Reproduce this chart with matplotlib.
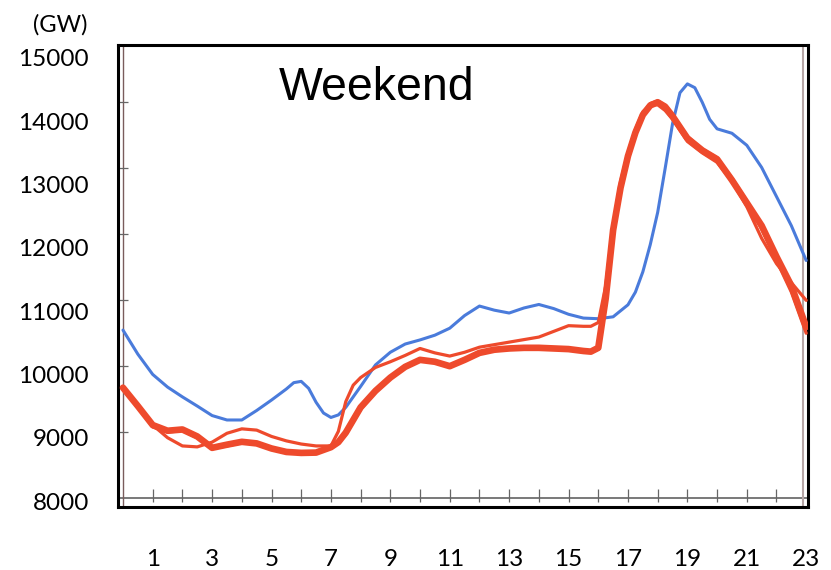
import numpy as np
import matplotlib
matplotlib.use('Agg')
import matplotlib.pyplot as plt

blue_hours = [0, 0.5, 1, 1.5, 2, 2.5, 3, 3.5, 4, 4.5, 5,
	5.5, 5.75, 6, 6.25, 6.5, 6.75, 7, 7.25, 7.5,
	8, 8.5, 9, 9.5, 10, 10.5, 11, 11.5, 12, 12.5, 13, 13.5, 14, 14.5,
	15, 15.5, 16, 16.5,
	17, 17.25, 17.5, 17.75, 18, 18.25, 18.5, 18.75, 19, 19.25, 19.5,
	19.75, 20,
	20.5, 21, 21.5, 22, 22.5, 23]
blue = [10700, 10320, 10000, 9800, 9645, 9500, 9350, 9280, 9280, 9430, 9595,
	9770, 9870, 9890, 9780, 9560, 9390, 9320, 9360, 9480,
	9810, 10150, 10350, 10480, 10545, 10620, 10730, 10930, 11080, 11015,
	10970, 11050, 11105, 11040, 10950, 10890, 10880, 10910,
	11100, 11300, 11620, 12050, 12560, 13250, 13960, 14450, 14590, 14530,
	14300, 14030, 13880,
	13810, 13620, 13270, 12810, 12350, 11800]

red_hours = [0, 0.5, 1, 1.5, 2, 2.5, 3, 3.5, 4, 4.5, 5, 5.5, 6, 6.5, 7,
	7.25, 7.5, 7.75,
	8, 8.5, 9, 9.5, 10, 10.5, 11, 11.5, 12, 12.5, 13, 13.5, 14, 14.5,
	15, 15.5,
	15.75, 16, 16.25, 16.5, 16.75, 17, 17.25, 17.5, 17.75, 18, 18.25, 18.5,
	19, 19.5, 20, 20.5, 21, 21.5, 22, 22.5, 23]

red_thick = [9790, 9500, 9200, 9110, 9130, 9020, 8840, 8890, 8935, 8910,
	8830, 8775, 8760, 8765, 8850,
	8930, 9080, 9280,
	9480, 9740, 9950, 10120, 10230, 10200, 10130, 10230, 10340, 10390,
	10410, 10420, 10420, 10410, 10400, 10370,
	10360, 10420, 11200, 12280, 12950, 13450, 13820, 14100, 14250, 14300,
	14230, 14080,
	13730, 13540, 13400, 13070, 12710, 12350, 11860, 11400, 10750]

red_mid = [9800, 9480, 9170, 9090, 9110, 9000, 8830, 8870, 8920, 8900,
	8820, 8770, 8750, 8760, 8840,
	8910, 9050, 9250,
	9450, 9720, 9940, 10110, 10220, 10190, 10120, 10220, 10330, 10380,
	10400, 10410, 10410, 10400, 10390, 10360,
	10350, 10400, 11100, 12200, 12900, 13400, 13800, 14120, 14280, 14320,
	14250, 14100,
	13760, 13560, 13420, 13100, 12740, 12300, 11800, 11300, 10650]

red_thin = [9790, 9480, 9200, 9000, 8870, 8855, 8930, 9070, 9140, 9120,
	9020, 8950, 8900, 8870, 8870,
	9100, 9570, 9830,
	9950, 10110, 10200, 10300, 10410, 10340, 10290, 10350, 10430, 10470,
	10510, 10550, 10590, 10680, 10770, 10760,
	10760, 10820, 11400, 12350, 13050, 13500, 13870, 14150, 14260, 14260,
	14170, 14030,
	13680, 13500, 13350, 13050, 12650, 12150, 11750, 11450, 11170]

y_ticks = [8000, 9000, 10000, 11000, 12000, 13000, 14000, 15000]
x_ticks = [1, 3, 5, 7, 9, 11, 13, 15, 17, 19, 21, 23]

RED = '#EE4A2C'
BLUE = '#4A7BDB'

fig = plt.figure(figsize=(8.31, 5.70), dpi=100)
ax = fig.add_axes([0.142, 0.1105, 0.8303, 0.8105])

# scanned-chart decorations: inner axis lines and ticks
ax.axhline(8047, color='#555555', lw=1.1, zorder=1)
ax.axvline(0, color='#7a5c5c', lw=1.0, zorder=1)
ax.axvline(22.9, color='#b5a5a5', lw=1.5, zorder=1)
ax.vlines(np.arange(1, 23), 7990, 8190, color='#666666', lw=0.9, zorder=1)
ax.hlines([9090, 10133, 11175, 12218, 13261, 14303], -0.17, 0.17,
	color='#666666', lw=0.9, zorder=1)

ax.plot(blue_hours, blue, color=BLUE, lw=2.2, solid_joinstyle='round',
	solid_capstyle='round', zorder=3)
ax.plot(red_hours, red_thick, color=RED, lw=4.8, solid_joinstyle='round',
	solid_capstyle='round', zorder=4)
ax.plot(red_hours, red_mid, color=RED, lw=2.3, solid_joinstyle='round',
	solid_capstyle='round', zorder=4)
ax.plot(red_hours, red_thin, color=RED, lw=2.3, solid_joinstyle='round',
	solid_capstyle='round', zorder=4)

ax.set_xlim(-0.168, 23.06)
ax.set_ylim(7905, 15204)

ax.set_yticks(y_ticks)
ax.set_yticklabels([str(v) for v in y_ticks], fontsize=17.5, family='Lato')
ax.set_xticks(x_ticks)
ax.set_xticklabels([str(v) for v in x_ticks], fontsize=17.5, family='Lato')
ax.tick_params(axis='y', length=0, pad=21)
ax.tick_params(axis='x', length=0, pad=30)

for sp in ax.spines.values():
	sp.set_linewidth(2.2)
	sp.set_color('black')

ax.text(0.375, 0.881, 'Weekend', transform=ax.transAxes, ha='center',
	va='baseline', fontsize=33.5, family='Liberation Sans')
fig.text(88 / 831, 1 - 25 / 570, '(GW)', ha='right', va='center',
	fontsize=17, family='Lato')

fig.savefig('out.png', dpi=100)
